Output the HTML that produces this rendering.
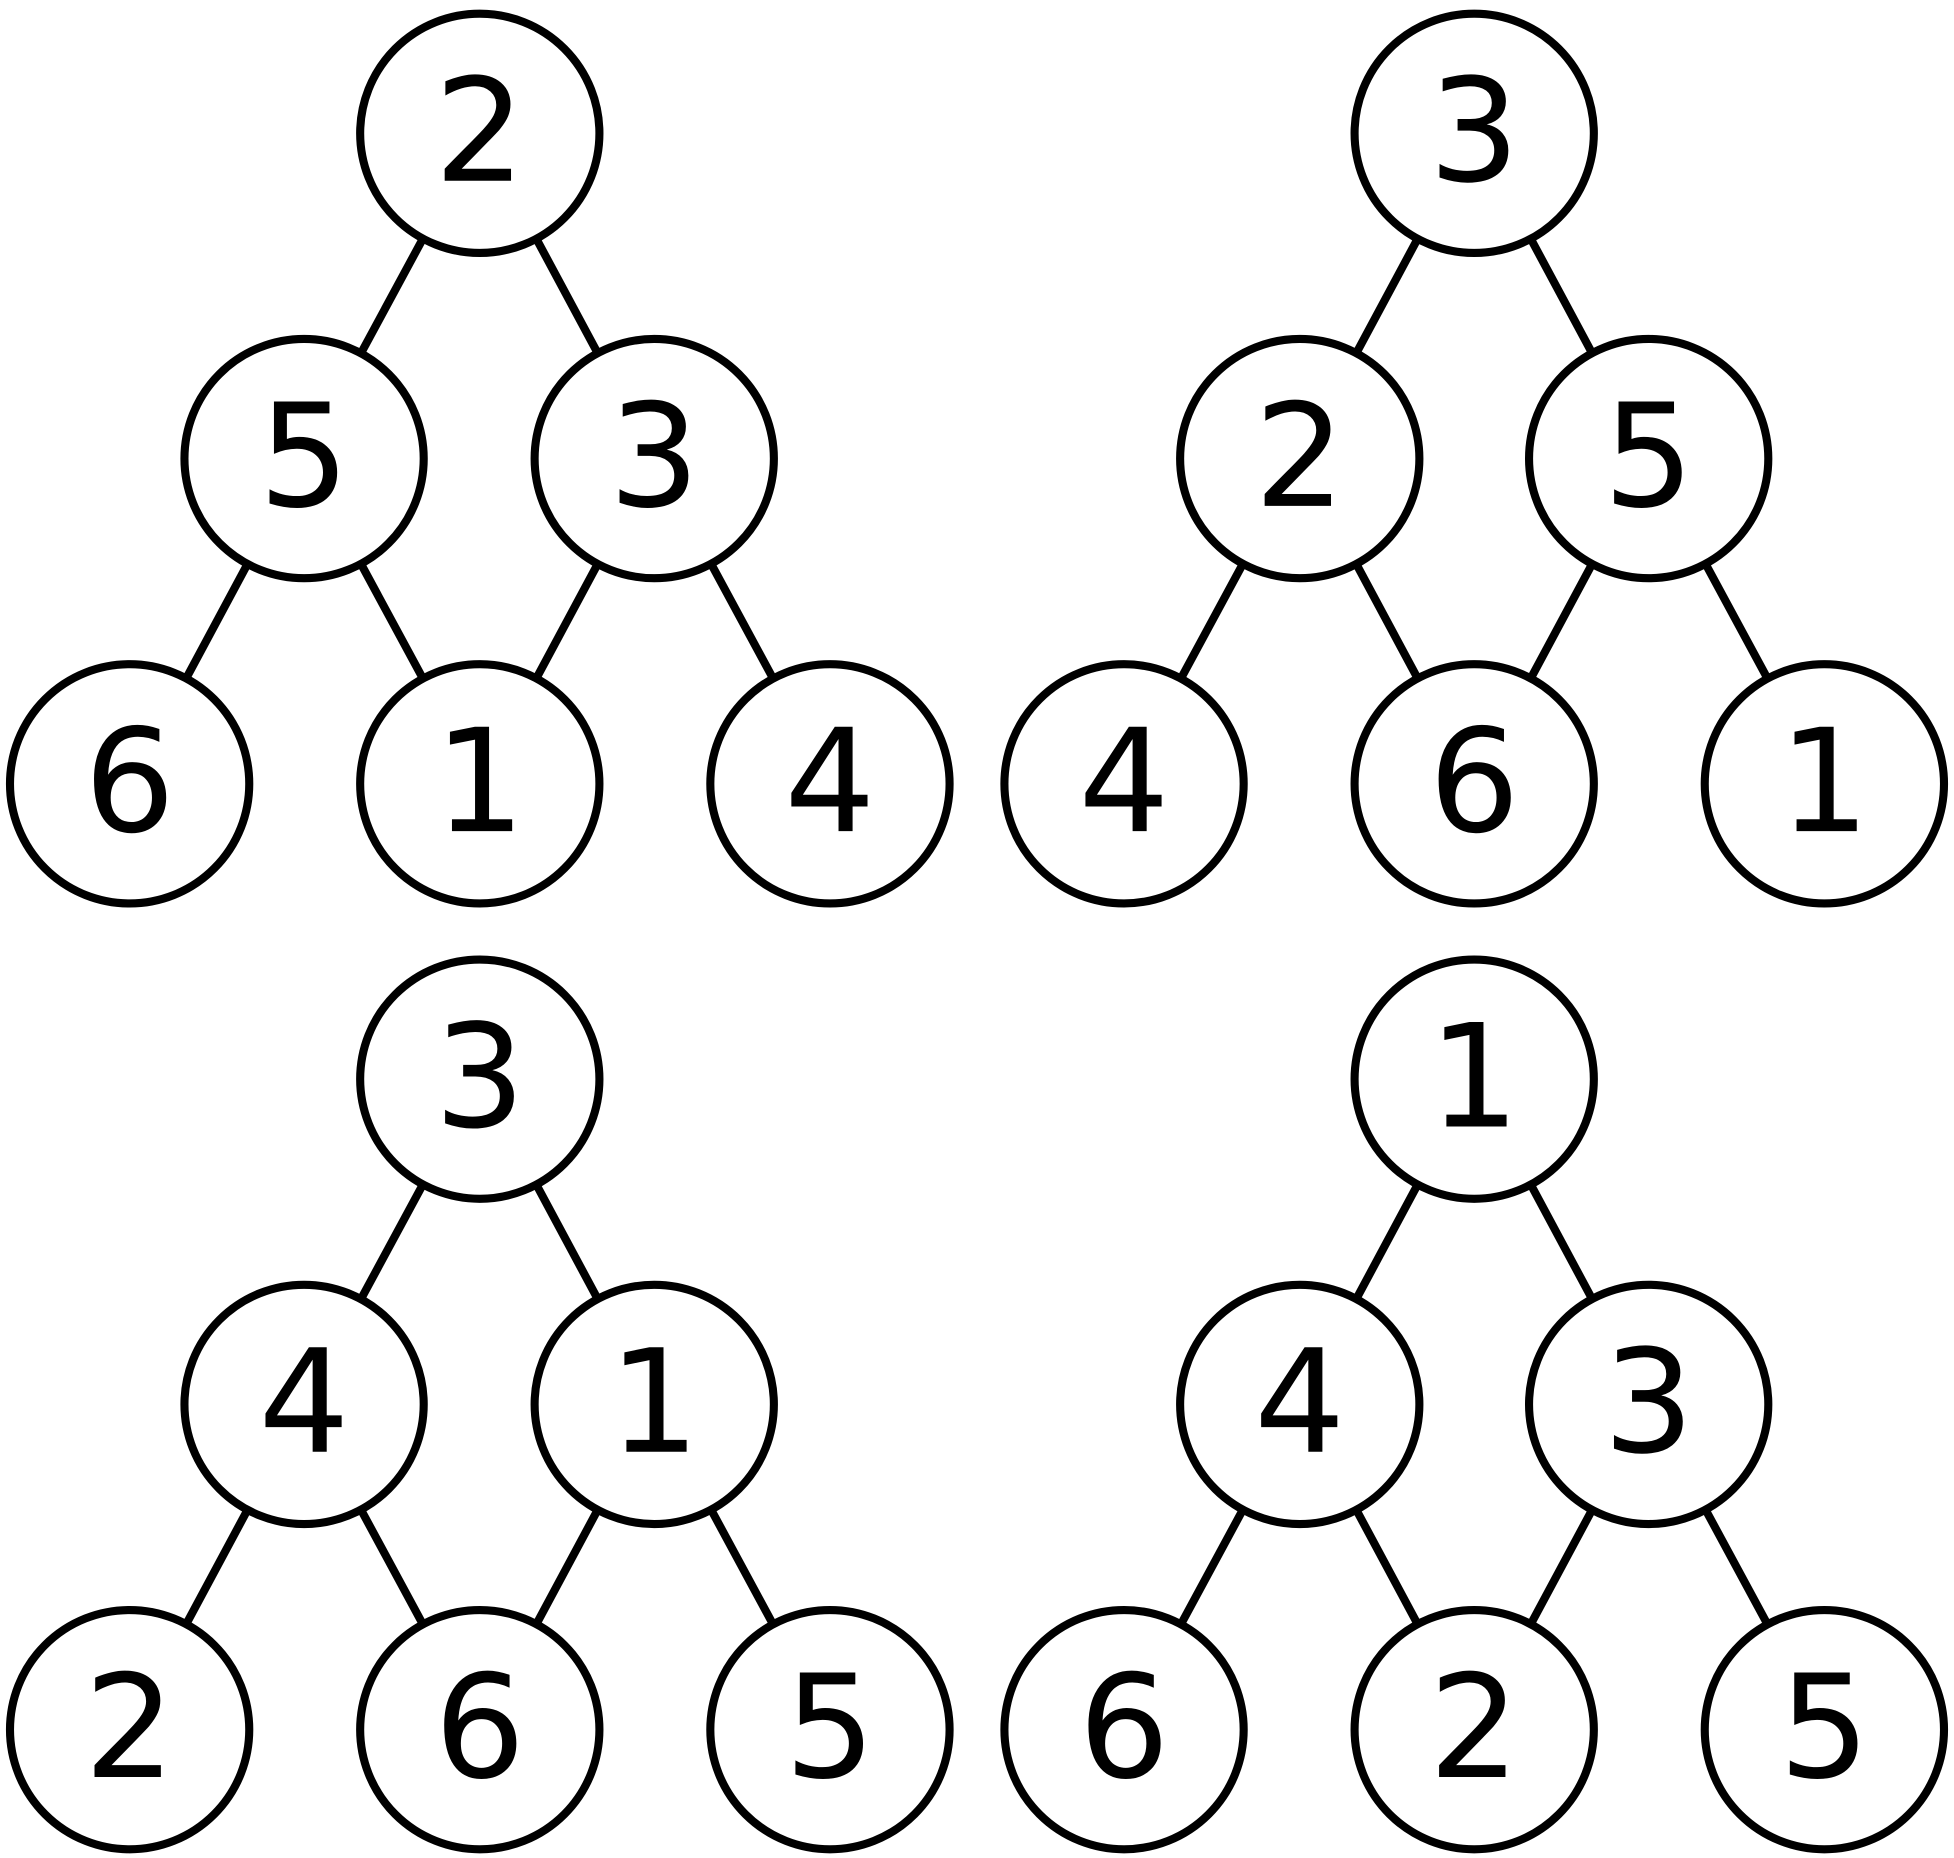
<!DOCTYPE html>
<html><head><meta charset="utf-8"><style>html,body{margin:0;padding:0;background:#fff}svg{display:block}</style></head>
<body>
<svg width="1954" height="1858" viewBox="0 0 1568 1491" xmlns="http://www.w3.org/2000/svg">
<g stroke="#000" stroke-width="6.5" fill="none">
<line x1="385" y1="107" x2="244" y2="368"/><line x1="385" y1="107" x2="525" y2="368"/>
<line x1="244" y1="368" x2="104" y2="629"/><line x1="244" y1="368" x2="385" y2="629"/>
<line x1="525" y1="368" x2="385" y2="629"/><line x1="525" y1="368" x2="666" y2="629"/>
<line x1="1183" y1="107" x2="1043" y2="368"/><line x1="1183" y1="107" x2="1323" y2="368"/>
<line x1="1043" y1="368" x2="902" y2="629"/><line x1="1043" y1="368" x2="1183" y2="629"/>
<line x1="1323" y1="368" x2="1183" y2="629"/><line x1="1323" y1="368" x2="1464" y2="629"/>
<line x1="385" y1="866" x2="244" y2="1127"/><line x1="385" y1="866" x2="525" y2="1127"/>
<line x1="244" y1="1127" x2="104" y2="1388"/><line x1="244" y1="1127" x2="385" y2="1388"/>
<line x1="525" y1="1127" x2="385" y2="1388"/><line x1="525" y1="1127" x2="666" y2="1388"/>
<line x1="1183" y1="866" x2="1043" y2="1127"/><line x1="1183" y1="866" x2="1323" y2="1127"/>
<line x1="1043" y1="1127" x2="902" y2="1388"/><line x1="1043" y1="1127" x2="1183" y2="1388"/>
<line x1="1323" y1="1127" x2="1183" y2="1388"/><line x1="1323" y1="1127" x2="1464" y2="1388"/>
</g>
<g stroke="#000" stroke-width="6.5" fill="#fff">
<circle cx="385" cy="107" r="96"/><circle cx="244" cy="368" r="96"/><circle cx="525" cy="368" r="96"/>
<circle cx="104" cy="629" r="96"/><circle cx="385" cy="629" r="96"/><circle cx="666" cy="629" r="96"/>
<circle cx="1183" cy="107" r="96"/><circle cx="1043" cy="368" r="96"/><circle cx="1323" cy="368" r="96"/>
<circle cx="902" cy="629" r="96"/><circle cx="1183" cy="629" r="96"/><circle cx="1464" cy="629" r="96"/>
<circle cx="385" cy="866" r="96"/><circle cx="244" cy="1127" r="96"/><circle cx="525" cy="1127" r="96"/>
<circle cx="104" cy="1388" r="96"/><circle cx="385" cy="1388" r="96"/><circle cx="666" cy="1388" r="96"/>
<circle cx="1183" cy="866" r="96"/><circle cx="1043" cy="1127" r="96"/><circle cx="1323" cy="1127" r="96"/>
<circle cx="902" cy="1388" r="96"/><circle cx="1183" cy="1388" r="96"/><circle cx="1464" cy="1388" r="96"/>
</g>
<g font-family="'DejaVu Sans', 'Liberation Sans', sans-serif" font-size="115" text-anchor="middle" fill="#000">
<text x="385" y="145">2</text><text x="244" y="406">5</text><text x="525" y="406">3</text>
<text x="104" y="667">6</text><text x="385" y="667">1</text><text x="666" y="667">4</text>
<text x="1183" y="145">3</text><text x="1043" y="406">2</text><text x="1323" y="406">5</text>
<text x="902" y="667">4</text><text x="1183" y="667">6</text><text x="1464" y="667">1</text>
<text x="385" y="904">3</text><text x="244" y="1165">4</text><text x="525" y="1165">1</text>
<text x="104" y="1426">2</text><text x="385" y="1426">6</text><text x="666" y="1426">5</text>
<text x="1183" y="904">1</text><text x="1043" y="1165">4</text><text x="1323" y="1165">3</text>
<text x="902" y="1426">6</text><text x="1183" y="1426">2</text><text x="1464" y="1426">5</text>
</g>
</svg>
</body></html>
